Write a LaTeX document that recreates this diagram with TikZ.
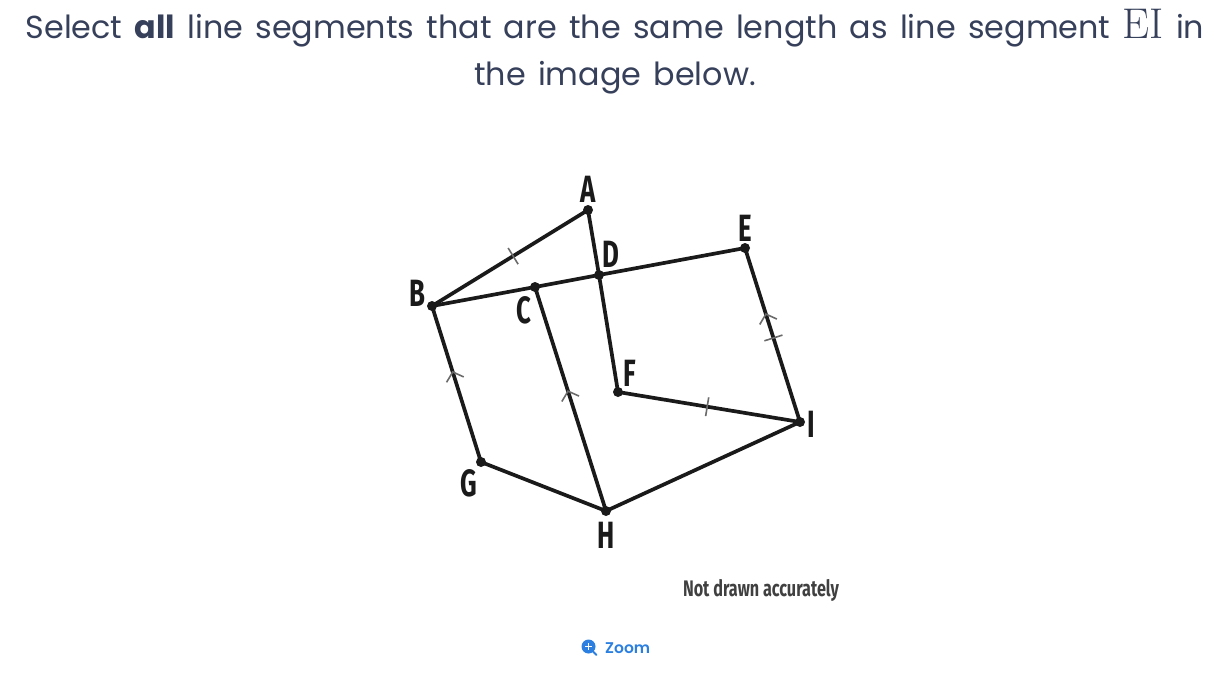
\documentclass[tikz,border=0pt]{standalone}
\usepackage{fontspec}
\newfontfamily\titlefont[WordSpace=1.45]{Poppins}
\newfontfamily\zoomfont{Poppins SemiBold}
\newfontfamily\lblfont[FakeStretch=0.68]{Fira Sans}
\newfontfamily\notefont[FakeStretch=0.72]{Fira Sans}
\definecolor{titlecol}{HTML}{36405A}
\definecolor{ink}{HTML}{1A1A1A}
\definecolor{markcol}{HTML}{6A6A6A}
\definecolor{zoomblue}{HTML}{2B7FE0}
\tikzset{
  x=1pt,y=-1pt,
  pt/.style={circle,fill=ink,inner sep=0pt,minimum size=10pt},
  seg/.style={draw=ink,line width=3.7pt},
  lbl/.style={font=\lblfont\bfseries\fontsize{38}{38}\selectfont,text=ink,inner sep=0pt},
  ttl/.style={font=\titlefont\fontsize{31.8}{32}\selectfont,text=titlecol,inner sep=0pt,anchor=base},
  tk/.pic={\draw[markcol,line width=1.6pt] (0,-9.5)--(0,9.5);},
  chev/.pic={\draw[markcol,line width=1.6pt] (-8,-9)--(0,0)--(-8,9);},
}
\begin{document}
\begin{tikzpicture}
\useasboundingbox (0,0) rectangle (1230,677);
\node[ttl] (t1) at (615,38) {Select \textbf{all} line segments that are the same length as line segment {\fontspec{Latin Modern Roman}\fontsize{43}{43}\selectfont EI} in};
\node[ttl] (t2) at (615,85) {the image below.};
\node[pt] (A) at (588,210) {};
\node[pt] (B) at (432,306) {};
\node[pt] (C) at (535,287) {};
\node[pt] (D) at (599,275) {};
\node[pt] (E) at (745,248) {};
\node[pt] (F) at (618,392) {};
\node[pt] (G) at (481,462) {};
\node[pt] (H) at (606,511) {};
\node[pt] (I) at (800,422) {};
\draw[seg] (B.center)--(A.center) pic[pos=.52,sloped,allow upside down]{tk};
\draw[seg] (A.center)--(D.center)--(F.center);
\draw[seg] (B.center)--(C.center)--(D.center)--(E.center);
\draw[seg] (I.center)--(E.center) pic[pos=.483,sloped,allow upside down]{tk} pic[pos=.62,sloped,allow upside down]{chev};
\draw[seg] (F.center)--(I.center) pic[pos=.49,sloped,allow upside down]{tk};
\draw[seg] (G.center)--(B.center) pic[pos=.577,sloped,allow upside down]{chev};
\draw[seg] (H.center)--(C.center) pic[pos=.535,sloped,allow upside down]{chev};
\draw[seg] (G.center)--(H.center)--(I.center);
\node[lbl] (la) at (588,189) {A};
\node[lbl] (lb) at (417,293) {B};
\node[lbl] (lc) at (524,310) {C};
\node[lbl] (ld) at (611,254) {D};
\node[lbl] (le) at (745,228) {E};
\node[lbl] (lf) at (630,373) {F};
\node[lbl] (lg) at (469,483) {G};
\node[lbl] (lh) at (606,535) {H};
\node[lbl] (li) at (811,424) {I};
\node[inner sep=0pt,text=black!75,font=\notefont\bfseries\fontsize{22.5}{22}\selectfont] (note) at (761,590) {Not drawn accurately};
\node[inner sep=0pt,text=zoomblue,font=\zoomfont\fontsize{15.5}{16}\selectfont,anchor=west] (zoom) at (605,648) {Zoom};
\fill[zoomblue] (588.5,646.5) circle (7);
\draw[zoomblue,line width=2pt,line cap=round] (593,651.5)--(596.5,655);
\draw[white,line width=1.5pt] (585,646.5)--(592,646.5) (588.5,643)--(588.5,650);
\end{tikzpicture}
\end{document}
